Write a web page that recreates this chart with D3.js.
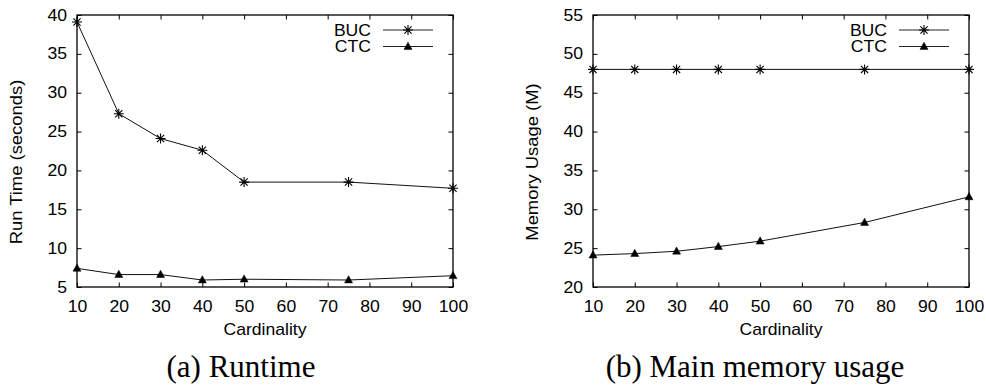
<!DOCTYPE html>
<html>
<head>
<meta charset="utf-8">
<script src="https://cdn.jsdelivr.net/npm/d3@7"></script>
<style>
  html, body { margin: 0; padding: 0; background: #fff; }
  svg { display: block; }
  .sans { font-family: "Liberation Sans", Arial, Helvetica, sans-serif; }
  .serif { font-family: "Liberation Serif", "Times New Roman", serif; }
</style>
</head>
<body>
<svg id="chart" width="986" height="385"></svg>
<script>
const cardinality = [10, 20, 30, 40, 50, 75, 100];
const runtimeBUC = [39.1, 27.3, 24.1, 22.6, 18.5, 18.5, 17.7];
const runtimeCTC = [7.4, 6.6, 6.6, 5.9, 6.0, 5.9, 6.45];
const memoryBUC = [48, 48, 48, 48, 48, 48, 48];
const memoryCTC = [24.1, 24.3, 24.6, 25.2, 25.9, 28.3, 31.6];
const xTicks = [10, 20, 30, 40, 50, 60, 70, 80, 90, 100];
const runtimeTicks = [5, 10, 15, 20, 25, 30, 35, 40];
const memoryTicks = [20, 25, 30, 35, 40, 45, 50, 55];
const seriesNames = ["BUC", "CTC"];

const svg = d3.select("#chart");
const FS = 16;
const STRETCH = 1.1;

function starPath(r) {
  const d = r * 0.72;
  return `M${-r},0L${r},0M0,${-r}L0,${r}M${-d},${-d}L${d},${d}M${-d},${d}L${d},${-d}`;
}
function triPath(s) {
  const h = s * 0.9;
  return `M0,${-h * 0.6}L${s / 2},${h * 0.4}L${-s / 2},${h * 0.4}Z`;
}

function panel(opts) {
  const x = d3.scaleLinear().domain([10, 100]).range([opts.x0, opts.x1]);
  const y = d3.scaleLinear().domain(opts.yDomain).range([287, 15]);
  const g = svg.append("g").attr("class", "sans");

  const tk = 4.5;
  const gb = g.append("g").attr("transform", `translate(0,${y.range()[0]})`)
    .call(d3.axisBottom(x).tickValues(xTicks).tickSize(-tk).tickPadding(13.5).tickFormat(d3.format("d")));
  g.append("g").attr("transform", `translate(0,${y.range()[1]})`)
    .call(d3.axisTop(x).tickValues(xTicks).tickSize(-tk).tickFormat(""));
  const gl = g.append("g").attr("transform", `translate(${opts.x0},0)`)
    .call(d3.axisLeft(y).tickValues(opts.yTicks).tickSize(-tk).tickPadding(10).tickFormat(d3.format("d")));
  g.append("g").attr("transform", `translate(${opts.x1},0)`)
    .call(d3.axisRight(y).tickValues(opts.yTicks).tickSize(-tk).tickFormat(""));

  g.selectAll(".domain").remove();
  g.selectAll(".tick line").attr("stroke", "#000").attr("stroke-width", 1);
  g.selectAll(".tick text").attr("font-size", FS).attr("fill", "#000")
    .attr("font-family", "Liberation Sans, Arial, sans-serif");
  gb.selectAll(".tick text").attr("transform", `scale(${STRETCH},1)`);
  gl.selectAll(".tick text").attr("x", -10 / STRETCH).attr("transform", `scale(${STRETCH},1)`);

  g.append("rect").attr("x", opts.x0).attr("y", y.range()[1])
    .attr("width", opts.x1 - opts.x0).attr("height", y.range()[0] - y.range()[1])
    .attr("fill", "none").attr("stroke", "#000").attr("stroke-width", 1.3);

  const line = d3.line().x((d, i) => x(cardinality[i])).y(d => y(d));
  const series = [opts.a, opts.b];
  series.forEach((vals, si) => {
    g.append("path").datum(vals).attr("d", line)
      .attr("fill", "none").attr("stroke", "#111").attr("stroke-width", 1);
    g.selectAll(null).data(vals).enter().append("path")
      .attr("transform", (d, i) => `translate(${x(cardinality[i])},${y(d)})`)
      .attr("d", si === 0 ? starPath(5) : triPath(8))
      .attr("fill", si === 0 ? "none" : "#000")
      .attr("stroke", "#000").attr("stroke-width", si === 0 ? 1.1 : 0.5);
  });

  const lg = g.append("g");
  seriesNames.forEach((name, i) => {
    const yy = 30 + i * 16.5;
    lg.append("text").attr("x", 0).attr("y", 0)
      .attr("transform", `translate(${opts.legX},${yy + 5.5}) scale(${STRETCH},1)`)
      .attr("text-anchor", "end").attr("font-size", FS).text(name);
    lg.append("line").attr("x1", opts.legX + 12).attr("x2", opts.legX + 62)
      .attr("y1", yy).attr("y2", yy).attr("stroke", "#222").attr("stroke-width", 1);
    lg.append("path").attr("transform", `translate(${opts.legX + 37},${yy})`)
      .attr("d", i === 0 ? starPath(5) : triPath(8))
      .attr("fill", i === 0 ? "none" : "#000")
      .attr("stroke", "#000").attr("stroke-width", i === 0 ? 1.1 : 0.5);
  });

  g.append("text").attr("transform", `translate(${(opts.x0 + opts.x1) / 2},335) scale(${STRETCH},1)`)
    .attr("text-anchor", "middle").attr("font-size", FS).text("Cardinality");
  g.append("text").attr("transform", `translate(${opts.yTitleX},162) rotate(-90) scale(1.15,1)`)
    .attr("text-anchor", "middle").attr("font-size", FS).text(opts.yTitle);

  svg.append("text").attr("class", "serif").attr("x", opts.capX).attr("y", 377)
    .attr("text-anchor", "middle").attr("font-size", 31).text(opts.caption);
}

panel({ x0: 77, x1: 453, yDomain: [5, 40], yTicks: runtimeTicks, a: runtimeBUC, b: runtimeCTC,
  legX: 371, yTitle: "Run Time (seconds)", yTitleX: 22, caption: "(a) Runtime", capX: 241 });
panel({ x0: 593, x1: 969, yDomain: [20, 55], yTicks: memoryTicks, a: memoryBUC, b: memoryCTC,
  legX: 887, yTitle: "Memory Usage (M)", yTitleX: 538, caption: "(b) Main memory usage", capX: 755 });
</script>
</body>
</html>
